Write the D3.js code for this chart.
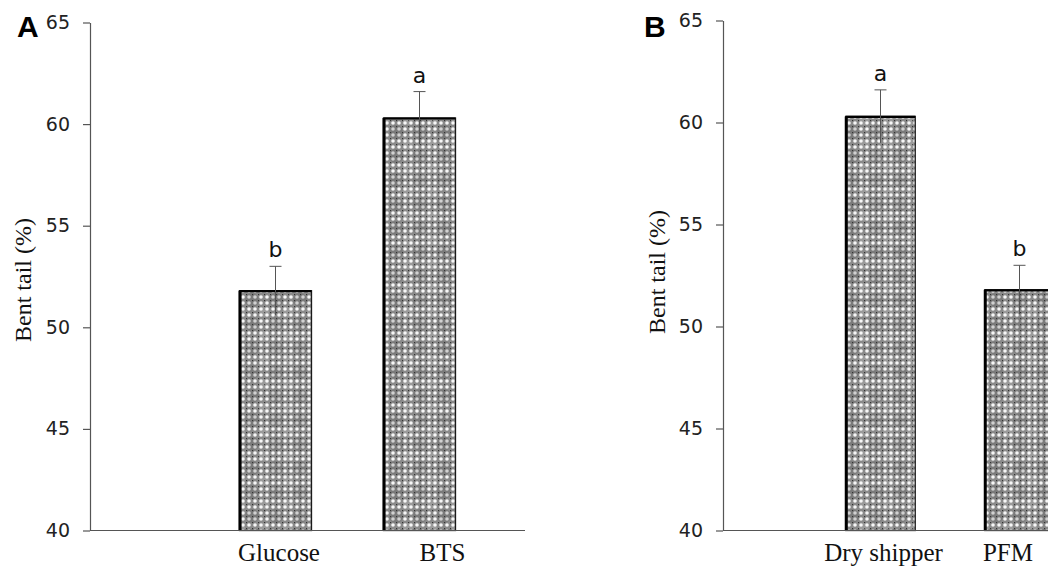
<!DOCTYPE html>
<html>
<head>
<meta charset="utf-8">
<script src="https://cdn.jsdelivr.net/npm/d3@7"></script>
<style>
  html, body { margin: 0; padding: 0; background: #fff; }
  svg { display: block; }
</style>
</head>
<body>
<div id="chart"></div>
<script>
// data
const yTicks = [40, 45, 50, 55, 60, 65];

const categoriesA = ['Glucose', 'BTS'];
const valuesA = [51.8, 60.3];
const errorsA = [1.2, 1.3];
const lettersA = ['b', 'a'];

const categoriesB = ['Dry shipper', 'PFM'];
const valuesB = [60.3, 51.8];
const errorsB = [1.3, 1.2];
const lettersB = ['a', 'b'];

const width = 1048;
const height = 568;

const svg = d3.select('#chart')
  .append('svg')
  .attr('width', width)
  .attr('height', height);

// hatch-like fill similar to the Excel pattern
const defs = svg.append('defs');
const fine = defs.append('pattern')
  .attr('id', 'fine')
  .attr('patternUnits', 'userSpaceOnUse')
  .attr('width', 6)
  .attr('height', 6);
fine.append('rect').attr('width', 6).attr('height', 6).attr('fill', '#8a8a8a');
fine.append('circle').attr('cx', 3).attr('cy', 3).attr('r', 1.8).attr('fill', '#f6f6f6');
fine.append('rect').attr('x', 0).attr('y', 0).attr('width', 1.2).attr('height', 1.2).attr('fill', '#333');

const coarse = defs.append('pattern')
  .attr('id', 'coarse')
  .attr('patternUnits', 'userSpaceOnUse')
  .attr('width', 24)
  .attr('height', 24);
coarse.append('circle').attr('cx', 12).attr('cy', 12).attr('r', 7)
  .attr('fill', 'rgba(60,60,60,0.2)');
[[0, 0], [24, 24], [24, 0], [0, 24]].forEach(([x, y]) => {
  coarse.append('circle').attr('cx', x).attr('cy', y).attr('r', 5)
    .attr('fill', 'rgba(255,255,255,0.15)');
});

const panels = [
  {
    letter: 'A', letterX: 17, letterY: 37,
    categories: categoriesA, values: valuesA, errors: errorsA, letters: lettersA,
    axisX: 90, plotRight: 525, yTop: 22.5, yBottom: 530.5,
    band: [203.5, 491.5],
    titleX: 31, titleY: 280,
    labelShift: [[3.5, 561], [23, 561]],
  },
  {
    letter: 'B', letterX: 644, letterY: 37,
    categories: categoriesB, values: valuesB, errors: errorsB, letters: lettersB,
    axisX: 723, plotRight: 1160, yTop: 20.5, yBottom: 530.5,
    band: [811, 1089],
    titleX: 665, titleY: 272,
    labelShift: [[3, 561], [-11.5, 561]],
  },
];

const renderPanel = (p) => {
  const g = svg.append('g');

  const yScale = d3.scaleLinear()
    .domain([40, 65])
    .range([p.yBottom, p.yTop]);

  const xScale = d3.scaleBand()
    .domain(p.categories)
    .range(p.band)
    .paddingInner(0.5)
    .paddingOuter(0.25);

  const rows = p.categories.map((c, i) => ({
    cat: c, value: p.values[i], err: p.errors[i], letter: p.letters[i], shift: p.labelShift[i],
  }));

  const bars = g.selectAll('g.bar')
    .data(rows)
    .join('g')
    .attr('class', 'bar');

  bars.append('rect')
    .attr('x', (d) => xScale(d.cat))
    .attr('y', (d) => yScale(d.value))
    .attr('width', xScale.bandwidth())
    .attr('height', (d) => yScale(40) - yScale(d.value))
    .attr('fill', 'url(#fine)');

  bars.append('rect')
    .attr('x', (d) => xScale(d.cat))
    .attr('y', (d) => yScale(d.value))
    .attr('width', xScale.bandwidth())
    .attr('height', (d) => yScale(40) - yScale(d.value))
    .attr('fill', 'url(#coarse)')
    .attr('stroke', '#1a1a1a')
    .attr('stroke-width', 1.3);

  bars.append('line')
    .attr('x1', (d) => xScale(d.cat) + 0.5)
    .attr('x2', (d) => xScale(d.cat) + 0.5)
    .attr('y1', (d) => yScale(d.value))
    .attr('y2', yScale(40))
    .attr('stroke', '#000')
    .attr('stroke-width', 3);

  bars.append('line')
    .attr('x1', (d) => xScale(d.cat))
    .attr('x2', (d) => xScale(d.cat) + xScale.bandwidth())
    .attr('y1', (d) => yScale(d.value) + 0.5)
    .attr('y2', (d) => yScale(d.value) + 0.5)
    .attr('stroke', '#000')
    .attr('stroke-width', 2.2);

  // error bars, the lower half disappears in the fill
  const cx = (d) => xScale(d.cat) + xScale.bandwidth() / 2;
  bars.append('line')
    .attr('x1', cx).attr('x2', cx)
    .attr('y1', (d) => yScale(d.value + d.err))
    .attr('y2', (d) => yScale(d.value - d.err))
    .attr('stroke', '#555')
    .attr('stroke-width', 1);

  bars.append('line')
    .attr('x1', (d) => cx(d) - 6).attr('x2', (d) => cx(d) + 6)
    .attr('y1', (d) => yScale(d.value + d.err))
    .attr('y2', (d) => yScale(d.value + d.err))
    .attr('stroke', '#555')
    .attr('stroke-width', 1);

  bars.append('text')
    .attr('x', cx)
    .attr('y', (d) => yScale(d.value + d.err) - 9)
    .attr('text-anchor', 'middle')
    .attr('font-family', 'DejaVu Sans, sans-serif')
    .attr('font-size', 22)
    .attr('fill', '#111')
    .text((d) => d.letter);

  bars.append('text')
    .attr('x', (d) => cx(d) + d.shift[0])
    .attr('y', (d) => d.shift[1])
    .attr('text-anchor', 'middle')
    .attr('font-family', 'Liberation Serif, Times New Roman, serif')
    .attr('font-size', 25)
    .attr('fill', '#111')
    .text((d) => d.cat);

  g.append('line')
    .attr('x1', p.axisX)
    .attr('x2', p.plotRight)
    .attr('y1', yScale(40))
    .attr('y2', yScale(40))
    .attr('stroke', '#555')
    .attr('stroke-width', 1.2);

  const yAxis = d3.axisLeft(yScale)
    .tickValues(yTicks)
    .tickSize(7)
    .tickSizeOuter(0)
    .tickPadding(13)
    .tickFormat(d3.format('d'));

  const ax = g.append('g')
    .attr('transform', `translate(${p.axisX},0)`)
    .call(yAxis);

  ax.select('.domain').attr('stroke', '#555').attr('stroke-width', 1.2);
  ax.selectAll('.tick line').attr('stroke', '#555').attr('stroke-width', 1.2);
  ax.selectAll('.tick text')
    .attr('font-family', 'DejaVu Sans, sans-serif')
    .attr('font-size', 19)
    .attr('fill', '#222');

  g.append('text')
    .attr('transform', `translate(${p.titleX},${p.titleY}) rotate(-90)`)
    .attr('text-anchor', 'middle')
    .attr('font-family', 'Liberation Serif, Times New Roman, serif')
    .attr('font-size', 24)
    .attr('fill', '#111')
    .text('Bent tail (%)');

  g.append('text')
    .attr('x', p.letterX)
    .attr('y', p.letterY)
    .attr('font-family', 'Liberation Sans, Arial, sans-serif')
    .attr('font-weight', 'bold')
    .attr('font-size', 30)
    .attr('fill', '#000')
    .text(p.letter);
};

panels.forEach(renderPanel);
</script>
</body>
</html>
